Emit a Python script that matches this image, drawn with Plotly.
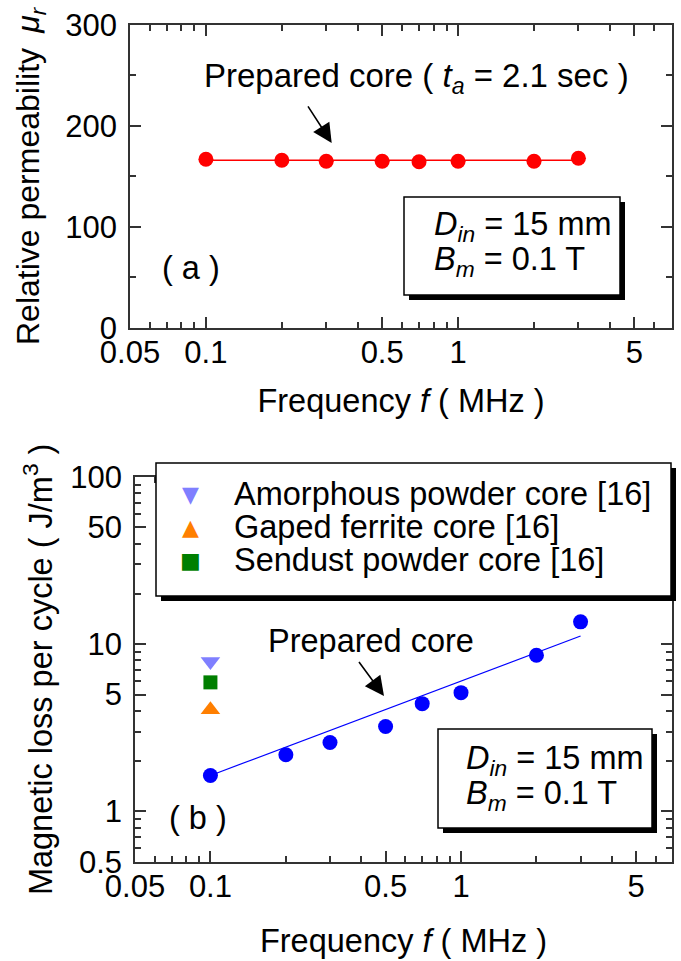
import numpy as np
import plotly.graph_objects as go

W, H = 681, 961
FONT = "Liberation Sans, Arial, sans-serif"

# ---------------- data ----------------
freq_a = [0.1, 0.2, 0.3, 0.5, 0.7, 1.0, 2.0, 3.0]
mu_r = [167, 166, 165, 165, 164.5, 165, 165, 168]
fit_a_freq = [0.1, 3.0]
fit_a_mu = [166, 166]

freq_b = [0.1, 0.2, 0.3, 0.5, 0.7, 1.0, 2.0, 3.0]
loss_b = [1.64, 2.18, 2.58, 3.22, 4.41, 5.13, 8.58, 13.6]
fit_b_freq = [0.1, 3.0]
fit_b_loss = [1.64, 11.2]

ref_freq = [0.1]
amorphous_loss = [7.88]
ferrite_loss = [4.05]
sendust_loss = [5.91]

x_tickvals = [0.05, 0.1, 0.5, 1, 5]
x_ticktext = ["0.05", "0.1", "0.5", "1", "5"]
x_minor = [0.06, 0.07, 0.08, 0.09, 0.2, 0.3, 0.4, 0.6, 0.7, 0.8, 0.9, 2, 3, 4, 6, 7]
mu_tickvals = [0, 100, 200, 300]
mu_minor = [50, 150, 250]
loss_tickvals = [0.5, 1, 5, 10, 50, 100]
loss_ticktext = ["0.5", "1", "5", "10", "50", "100"]
loss_minor = [0.6, 0.7, 0.8, 0.9, 2, 3, 4, 6, 7, 8, 9, 20, 30, 40, 60, 70, 80, 90]

legend_names = ["Amorphous powder core [16]", "Gaped ferrite core [16]", "Sendust powder core [16]"]
legend_glyphs = ["\u25BC", "\u25B2", "\u25A0"]
c_amorph, c_ferrite, c_sendust = "#7F7FFF", "#FF7F00", "#007F00"
legend_colors = [c_amorph, c_ferrite, c_sendust]


def px(x):
    return x / W


def py(y):
    return 1 - y / H


fig = go.Figure()

# panel (a)
fig.add_trace(go.Scatter(x=fit_a_freq, y=fit_a_mu, mode="lines",
                         line=dict(color="#FF0000", width=1.5),
                         xaxis="x", yaxis="y", showlegend=False, hoverinfo="skip"))
fig.add_trace(go.Scatter(x=freq_a, y=mu_r, mode="markers", name="Prepared core",
                         marker=dict(color="#FF0000", size=15, symbol="circle"),
                         xaxis="x", yaxis="y", showlegend=False))

# panel (b)
fig.add_trace(go.Scatter(x=fit_b_freq, y=fit_b_loss, mode="lines",
                         line=dict(color="#0000FF", width=1.2),
                         xaxis="x2", yaxis="y2", showlegend=False, hoverinfo="skip"))
fig.add_trace(go.Scatter(x=freq_b, y=loss_b, mode="markers", name="Prepared core",
                         marker=dict(color="#0000FF", size=15, symbol="circle"),
                         xaxis="x2", yaxis="y2", showlegend=False))
fig.add_trace(go.Scatter(x=ref_freq, y=amorphous_loss, mode="markers", name=legend_names[0],
                         marker=dict(color=c_amorph, size=17, symbol="triangle-down"),
                         xaxis="x2", yaxis="y2", showlegend=False))
fig.add_trace(go.Scatter(x=ref_freq, y=ferrite_loss, mode="markers", name=legend_names[1],
                         marker=dict(color=c_ferrite, size=17, symbol="triangle-up"),
                         xaxis="x2", yaxis="y2", showlegend=False))
fig.add_trace(go.Scatter(x=ref_freq, y=sendust_loss, mode="markers", name=legend_names[2],
                         marker=dict(color=c_sendust, size=14, symbol="square"),
                         xaxis="x2", yaxis="y2", showlegend=False))

LC = "#333333"
common = dict(showline=True, linecolor=LC, linewidth=1.5, mirror="ticks",
              ticks="inside", tickcolor=LC, tickwidth=1.5, ticklen=11,
              showgrid=False, zeroline=False, automargin=False,
              tickfont=dict(family=FONT, size=31, color="black"),
              title_font=dict(family=FONT, size=32.5, color="black"))
minor_common = dict(ticks="inside", ticklen=6, tickcolor=LC, tickwidth=1.5, showgrid=False)

xa = dict(common, type="log",
          tickmode="array", tickvals=x_tickvals, ticktext=x_ticktext,
          minor=dict(minor_common, tickvals=x_minor),
          ticklabelstandoff=-4)

fig.update_layout(
    width=W, height=H,
    margin=dict(l=0, r=0, t=0, b=0),
    paper_bgcolor="white", plot_bgcolor="white",
    font=dict(family=FONT, size=32, color="black"),
    showlegend=False,
    xaxis=dict(xa, domain=[px(130), px(672)], anchor="y",
               range=[np.log10(0.05), np.log10(7.05)],
               title=dict(text="Frequency <i>f</i> ( MHz )", standoff=21)),
    yaxis=dict(common, domain=[py(327.7), py(25)], anchor="x", range=[0, 300],
               tickmode="array", tickvals=mu_tickvals,
               minor=dict(minor_common, tickvals=mu_minor),
               ticklabelstandoff=5,
               title=dict(text="Relative permeability\u00a0\u2009<i>\u03bc<sub>r</sub></i>",
                          standoff=16, font=dict(family=FONT, size=32, color="black"))),
    xaxis2=dict(xa, domain=[px(135), px(672)], anchor="y2",
                range=[np.log10(0.05), np.log10(6.95)],
                title=dict(text="Frequency <i>f</i> ( MHz )", standoff=27)),
    yaxis2=dict(common, type="log", domain=[py(861.7), py(477)], anchor="x2",
                range=[np.log10(0.5), 2], tickmode="array",
                tickvals=loss_tickvals, ticktext=loss_ticktext,
                minor=dict(minor_common, tickvals=loss_minor),
                ticklabelstandoff=5,
                title=dict(text="Magnetic loss per cycle ( J/m<sup>3</sup> )", standoff=8)),
)

shapes = []


def boxed(x0, y0, x1, y1, off=5):
    shapes.append(dict(type="rect", xref="paper", yref="paper",
                       x0=px(x0 + off), x1=px(x1 + off), y0=py(y1 + off), y1=py(y0 + off),
                       fillcolor="black", line=dict(width=0), layer="above"))
    shapes.append(dict(type="rect", xref="paper", yref="paper",
                       x0=px(x0), x1=px(x1), y0=py(y1), y1=py(y0),
                       fillcolor="white", line=dict(color="black", width=1.5), layer="above"))


boxed(404, 197, 620, 295)
boxed(438, 729, 652, 828)
boxed(156, 463, 671, 596)
fig.update_layout(shapes=shapes)

ann = []


def text(x, y, t, xanchor="left", size=32.5, color="black", family=FONT):
    ann.append(dict(x=px(x), y=py(y), xref="paper", yref="paper", text=t,
                    showarrow=False, xanchor=xanchor, yanchor="middle",
                    font=dict(family=family, size=size, color=color)))


text(416, 78, "Prepared core ( <i>t<sub>a</sub></i> = 2.1 sec )", xanchor="center", size=33)
text(432, 226, "<i>D<sub>in</sub></i> = 15 mm")
text(432, 261, "<i>B<sub>m</sub></i> = 0.1 T")
text(191, 268, "( a )", xanchor="center")

text(371, 641, "Prepared core", xanchor="center")
text(464, 760, "<i>D<sub>in</sub></i> = 15 mm")
text(464, 795, "<i>B<sub>m</sub></i> = 0.1 T")
text(198, 818, "( b )", xanchor="center")

rows = [494, 527, 560]
for name, glyph, col, yy in zip(legend_names, legend_glyphs, legend_colors, rows):
    text(190, yy, glyph, xanchor="center", size=22, color=col, family="DejaVu Sans")
    text(232, yy, name)

# arrows
for (tx, ty, sx, sy) in [(331.7, 143, 305, 101.7), (384, 696, 356, 658)]:
    ann.append(dict(x=px(tx), y=py(ty), xref="paper", yref="paper", text=" ",
                    font=dict(family=FONT, size=10),
                    showarrow=True, ax=sx - tx, ay=sy - ty, axref="pixel", ayref="pixel",
                    arrowhead=2, arrowsize=2.4, arrowwidth=1.6, arrowcolor="black", standoff=0))

fig.update_layout(annotations=ann)

fig.write_html("out.html",
               config={"displayModeBar": False},
               post_script="document.body.style.margin='0';document.body.style.overflow='hidden';")
